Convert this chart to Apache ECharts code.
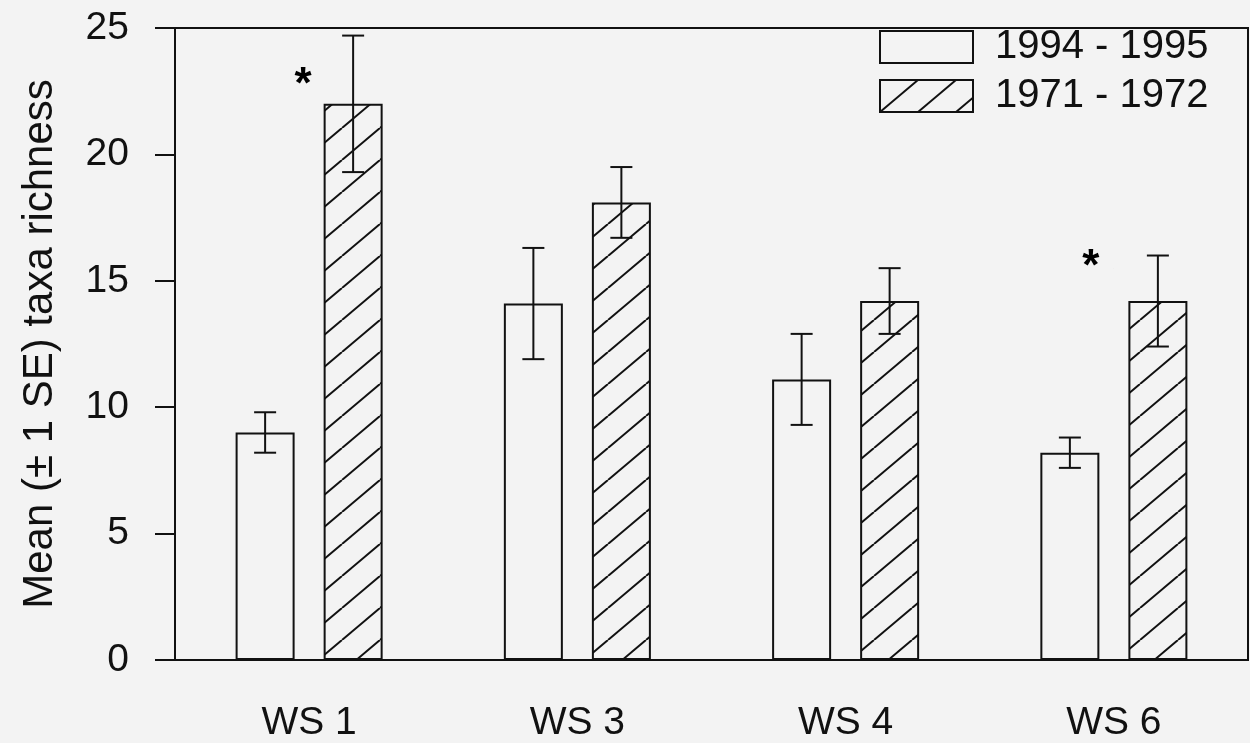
<!DOCTYPE html>
<html>
<head>
<meta charset="utf-8">
<script src="https://cdn.jsdelivr.net/npm/echarts@6/dist/echarts.min.js"></script>
<style>
  html, body { margin: 0; padding: 0; background: #f3f3f3; }
  #chart { width: 1250px; height: 743px; }
</style>
</head>
<body>
<div id="chart"></div>
<script>
// ---- data ----
const categories = ['WS 1', 'WS 3', 'WS 4', 'WS 6'];
const periodRecent = '1994 - 1995';
const periodEarly = '1971 - 1972';
const meanRecent = [9.0, 14.1, 11.1, 8.2];
const seRecent = [0.8, 2.2, 1.8, 0.6];
const meanEarly = [22.0, 18.1, 14.2, 14.2];
const seEarly = [2.7, 1.4, 1.3, 1.8];
// significant differences, marked with an asterisk
const sigCategories = ['WS 1', 'WS 6'];
const sigHeights = [22.7, 15.5];
const yAxisTitle = 'Mean (\u00B1 1 SE) taxa richness';

// ---- style ----
const INK = '#111';
const FONT = '"Liberation Sans", Arial, Helvetica, sans-serif';
const BAR_W = 59;
const BAR_GAP = 29;
const BAR_OFFSET = (BAR_W + BAR_GAP) / 2;
const CAP = 11;
const sigOffsetX = [-6, -23];

// diagonal hatching tile
function hatchPattern() {
  const w = 38, h = 32;
  const c = document.createElement('canvas');
  c.width = w; c.height = h;
  const g = c.getContext('2d');
  g.strokeStyle = INK;
  g.lineWidth = 2;
  for (const dx of [-w, 0, w]) {
    g.beginPath();
    g.moveTo(dx, h);
    g.lineTo(dx + w, 0);
    g.stroke();
  }
  return c;
}

function errorBars(means, ses, side) {
  return {
    type: 'custom',
    name: 'se',
    z: 5,
    silent: true,
    data: categories.map((c, i) => [i, means[i], ses[i]]),
    encode: { x: 0, y: 1 },
    renderItem(params, api) {
      const i = api.value(0), m = api.value(1), s = api.value(2);
      const hi = api.coord([i, m + s]);
      const lo = api.coord([i, m - s]);
      const x = hi[0] + side * BAR_OFFSET;
      const st = { stroke: INK, lineWidth: 2 };
      return {
        type: 'group',
        children: [
          { type: 'line', shape: { x1: x, y1: hi[1], x2: x, y2: lo[1] }, style: st },
          { type: 'line', shape: { x1: x - CAP, y1: hi[1], x2: x + CAP, y2: hi[1] }, style: st },
          { type: 'line', shape: { x1: x - CAP, y1: lo[1], x2: x + CAP, y2: lo[1] }, style: st }
        ]
      };
    }
  };
}

const chart = echarts.init(document.getElementById('chart'), null, { renderer: 'canvas' });

chart.setOption({
  backgroundColor: '#f3f3f3',
  animation: false,
  textStyle: { fontFamily: FONT, color: INK },
  grid: {
    left: 175, right: 2, top: 28, bottom: 83,
    show: true, borderColor: INK, borderWidth: 2, backgroundColor: 'transparent'
  },
  legend: {
    data: [periodRecent, periodEarly],
    orient: 'vertical',
    left: 874, top: 22,
    itemWidth: 93, itemHeight: 32, itemGap: 9,
    icon: 'rect',
    textStyle: { fontFamily: FONT, fontSize: 40, color: INK, lineHeight: 32, padding: [0, 0, 0, 17] }
  },
  xAxis: {
    type: 'category',
    data: categories,
    axisLine: { lineStyle: { color: INK, width: 2 } },
    axisTick: { alignWithLabel: true, length: 20, lineStyle: { color: INK, width: 2 } },
    axisLabel: { fontFamily: FONT, fontSize: 39, color: INK, margin: 44 },
    splitLine: { show: false }
  },
  yAxis: {
    type: 'value',
    min: 0, max: 25, interval: 5,
    name: yAxisTitle,
    nameLocation: 'middle',
    nameRotate: 90,
    nameGap: 114,
    nameTextStyle: { fontFamily: FONT, fontSize: 42, color: INK },
    axisLine: { show: true, lineStyle: { color: INK, width: 2 } },
    axisTick: { show: true, length: 20, lineStyle: { color: INK, width: 2 } },
    axisLabel: { fontFamily: FONT, fontSize: 39, color: INK, margin: 46 },
    splitLine: { show: false }
  },
  series: [
    {
      name: periodRecent,
      type: 'bar',
      barWidth: BAR_W,
      barGap: (BAR_GAP / BAR_W * 100).toFixed(1) + '%',
      data: meanRecent,
      itemStyle: { color: 'rgba(0,0,0,0)', borderColor: INK, borderWidth: 2 }
    },
    {
      name: periodEarly,
      type: 'bar',
      barWidth: BAR_W,
      data: meanEarly,
      itemStyle: { color: { image: hatchPattern(), repeat: 'repeat' }, borderColor: INK, borderWidth: 2 }
    },
    errorBars(meanRecent, seRecent, -1),
    errorBars(meanEarly, seEarly, 1),
    {
      name: 'sig',
      type: 'scatter',
      symbolSize: 0.1,
      itemStyle: { color: INK, opacity: 1 },
      silent: true,
      z: 6,
      data: sigCategories.map((c, k) => ({
        value: [c, sigHeights[k]],
        label: { offset: [sigOffsetX[k], 0] }
      })),
      label: {
        show: true, position: 'inside', formatter: '*',
        fontFamily: FONT, fontSize: 44, fontWeight: 'bold',
        color: '#000', textBorderWidth: 0, opacity: 1
      }
    }
  ]
});
</script>
</body>
</html>
